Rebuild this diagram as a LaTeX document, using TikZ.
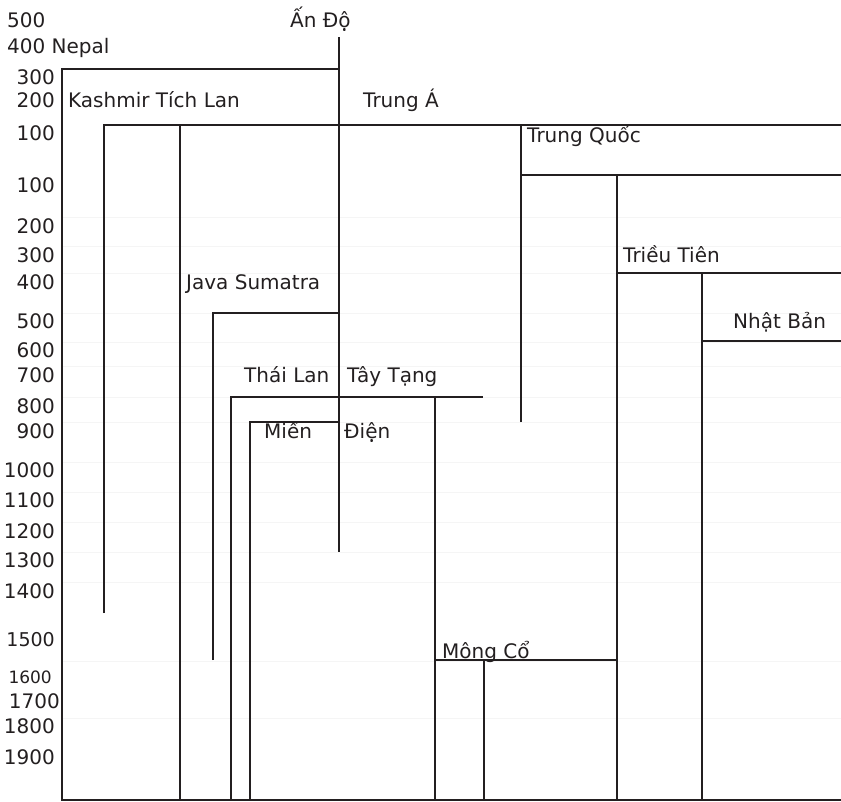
\documentclass[tikz,border=0pt]{standalone}
\usepackage{fontspec}
\setmainfont{DejaVu Sans}
\usetikzlibrary{positioning}
\definecolor{linecolor}{RGB}{35,31,32}
\definecolor{textcolor}{RGB}{35,31,32}

\begin{document}
\begin{tikzpicture}[
        x=1pt, y=-1pt,
        branch/.style={draw=linecolor, line width=1.8pt},
        gridline/.style={draw=gray!8, line width=0.8pt},
        yearlbl/.style={inner sep=0pt, anchor=base east, text=textcolor, font=\fontsize{20}{23}\selectfont},
        place/.style={inner sep=0pt, anchor=base west, text=textcolor, font=\fontsize{20}{23}\selectfont}
    ]
        \useasboundingbox (0,0) rectangle (841,801);

        % faint row rules
        \foreach \yy in {217,246,273,313,342,366,397,422,462,492,522,552,582,661,718}
            \draw[gridline] (62,\yy) -- (841,\yy);

        % year column
        \node[place] (y500) at (7,27) {500};
        \node[place] (y400) at (7,53) {400 Nepal};
        \node[yearlbl] (y300) at (55,84) {300};
        \node[yearlbl] (y200) at (55,107) {200};
        \node[yearlbl] (y100a) at (55,140) {100};
        \node[yearlbl] (y100b) at (55,192) {100};
        \node[yearlbl] (y200b) at (55,233) {200};
        \node[yearlbl] (y300b) at (55,262) {300};
        \node[yearlbl] (y400b) at (55,289) {400};
        \node[yearlbl] (y500b) at (55,328) {500};
        \node[yearlbl] (y600) at (55,357) {600};
        \node[yearlbl] (y700) at (55,382) {700};
        \node[yearlbl] (y800) at (55,413) {800};
        \node[yearlbl] (y900) at (55,438) {900};
        \node[yearlbl] (y1000) at (55,477) {1000};
        \node[yearlbl] (y1100) at (55,507) {1100};
        \node[yearlbl] (y1200) at (55,538) {1200};
        \node[yearlbl] (y1300) at (55,567) {1300};
        \node[yearlbl] (y1400) at (55,598) {1400};
        \node[yearlbl, font=\fontsize{19}{22}\selectfont] (y1500) at (55,646) {1500};
        \node[yearlbl, font=\fontsize{17}{20}\selectfont] (y1600) at (52,683) {1600};
        \node[yearlbl] (y1700) at (60,708) {1700};
        \node[yearlbl] (y1800) at (55,733) {1800};
        \node[yearlbl] (y1900) at (55,764) {1900};

        % country labels
        \node[place] (ando) at (290,27) {Ấn Độ};
        \node[place] (kashmir) at (68,107) {Kashmir Tích Lan};
        \node[place] (trunga) at (363,107) {Trung Á};
        \node[place] (trungquoc) at (527,142) {Trung Quốc};
        \node[place] (java) at (186,289) {Java Sumatra};
        \node[place] (trieutien) at (623,262) {Triều Tiên};
        \node[place] (nhatban) at (733,328) {Nhật Bản};
        \node[place] (thailan) at (244,382) {Thái Lan};
        \node[place] (taytang) at (347,382) {Tây Tạng};
        \node[place] (mien) at (264,438) {Miến};
        \node[place] (dien) at (344,438) {Điện};
        \node[place] (mongco) at (442,658) {Mông Cổ};

        % junctions
        \coordinate (andoTop) at (339,37);
        \coordinate (andoEnd) at (339,552);
        \coordinate (nepal) at (62,69);
        \coordinate (nepalR) at (339,69);
        \coordinate (base) at (62,800);
        \coordinate (baseR) at (841,800);
        \coordinate (kash) at (104,125);
        \coordinate (kashEnd) at (104,613);
        \coordinate (tichlan) at (180,125);
        \coordinate (tichlanEnd) at (180,800);
        \coordinate (centralR) at (841,125);
        \coordinate (china) at (521,125);
        \coordinate (chinaEnd) at (521,422);
        \coordinate (chinaB) at (521,175);
        \coordinate (chinaR) at (841,175);
        \coordinate (korea) at (617,175);
        \coordinate (koreaEnd) at (617,800);
        \coordinate (koreaB) at (617,273);
        \coordinate (koreaR) at (841,273);
        \coordinate (japan) at (702,273);
        \coordinate (japanEnd) at (702,800);
        \coordinate (japanB) at (702,341);
        \coordinate (japanR) at (841,341);
        \coordinate (javaL) at (213,313);
        \coordinate (javaR) at (339,313);
        \coordinate (javaEnd) at (213,660);
        \coordinate (thaiL) at (231,397);
        \coordinate (tibetR) at (483,397);
        \coordinate (thaiEnd) at (231,800);
        \coordinate (burmaL) at (250,422);
        \coordinate (burmaR) at (339,422);
        \coordinate (burmaEnd) at (250,800);
        \coordinate (tibet) at (435,397);
        \coordinate (tibetEnd) at (435,800);
        \coordinate (mongolL) at (435,660);
        \coordinate (mongolR) at (617,660);
        \coordinate (mongol) at (484,660);
        \coordinate (mongolEnd) at (484,800);

        % branches
        \draw[branch] (nepalR) -- (nepal) -- (base) -- (baseR);
        \draw[branch] (andoTop) -- (andoEnd);
        \draw[branch] (kashEnd) -- (kash) -- (centralR);
        \draw[branch] (tichlan) -- (tichlanEnd);
        \draw[branch] (chinaEnd) -- (china);
        \draw[branch] (chinaB) -- (chinaR);
        \draw[branch] (koreaEnd) -- (korea);
        \draw[branch] (koreaB) -- (koreaR);
        \draw[branch] (japanEnd) -- (japan);
        \draw[branch] (japanB) -- (japanR);
        \draw[branch] (javaEnd) -- (javaL) -- (javaR);
        \draw[branch] (thaiEnd) -- (thaiL) -- (tibetR);
        \draw[branch] (burmaEnd) -- (burmaL) -- (burmaR);
        \draw[branch] (tibet) -- (tibetEnd);
        \draw[branch] (mongolL) -- (mongolR);
        \draw[branch] (mongol) -- (mongolEnd);
    \end{tikzpicture}
\end{document}
